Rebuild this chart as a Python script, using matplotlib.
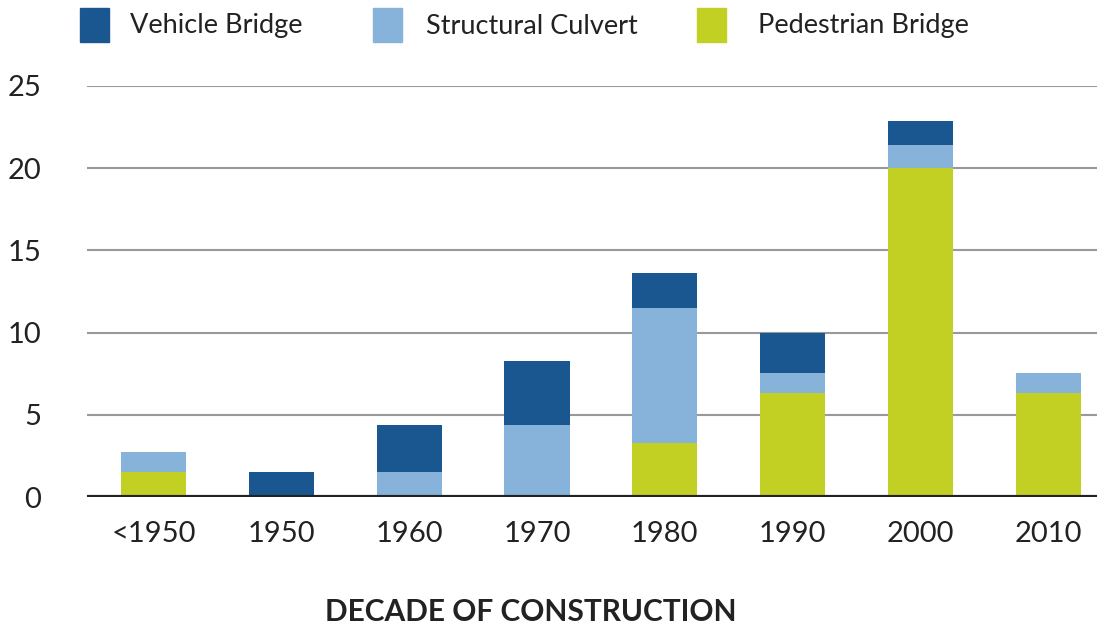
import numpy as np
import matplotlib.pyplot as plt
from matplotlib.patches import Rectangle

plt.rcParams['font.family'] = ['Lato', 'DejaVu Sans']

decades = ["<1950", "1950", "1960", "1970", "1980", "1990", "2000", "2010"]
pedestrian = [1.5, 0, 0, 0, 3.3, 6.3, 20.0, 6.3]
culvert = [1.25, 0, 1.5, 4.4, 8.2, 1.25, 1.4, 1.25]
vehicle = [0, 1.5, 2.9, 3.9, 2.1, 2.45, 1.5, 0]

series_names = ["Vehicle Bridge", "Structural Culvert", "Pedestrian Bridge"]
colors = {"Vehicle Bridge": "#1a5790",
          "Structural Culvert": "#87b2da",
          "Pedestrian Bridge": "#c2d024"}


def main():
    fig = plt.figure(figsize=(10.97, 6.26), dpi=100)
    ax = fig.add_axes([87 / 1097, 1 - 497 / 626, 1 - 87 / 1097, (497 - 86) / 626])

    x = np.arange(len(decades))
    ped = np.array(pedestrian)
    cul = np.array(culvert)
    veh = np.array(vehicle)
    w = 0.51
    ax.bar(x, ped, w, color=colors["Pedestrian Bridge"], zorder=2)
    ax.bar(x, cul, w, bottom=ped, color=colors["Structural Culvert"], zorder=2)
    ax.bar(x, veh, w, bottom=ped + cul, color=colors["Vehicle Bridge"], zorder=2)

    ax.set_xlim(-0.52, 7.38)
    ax.set_ylim(0, 25)
    ax.set_yticks([0, 5, 10, 15, 20, 25])
    ax.set_xticks(x)
    ax.set_xticklabels(decades)
    ax.yaxis.grid(True, color="#999999", linewidth=1.5, zorder=1)
    ax.axhline(0, color="#222222", linewidth=3, zorder=3)
    for s in ax.spines.values():
        s.set_visible(False)
    ax.tick_params(axis="both", length=0, labelsize=21, colors="#222222")
    ax.tick_params(axis="y", pad=33)
    ax.tick_params(axis="x", pad=17)

    fig.text(531 / 1097, 1 - 612 / 626, "DECADE OF CONSTRUCTION", ha="center", va="center",
             fontsize=21.5, fontweight="bold", color="#222222")

    # legend along the top
    sq_x = [80, 373, 697]
    tx_x = [130, 426, 758]
    for name, sx, tx in zip(series_names, sq_x, tx_x):
        fig.add_artist(Rectangle((sx / 1097, 1 - 42 / 626), 29 / 1097, 34 / 626,
                                 transform=fig.transFigure, color=colors[name]))
        fig.text(tx / 1097, 1 - 26 / 626, name, ha="left", va="center",
                 fontsize=19.5, color="#222222")

    fig.savefig("out.png", dpi=100)


if __name__ == "__main__":
    main()
